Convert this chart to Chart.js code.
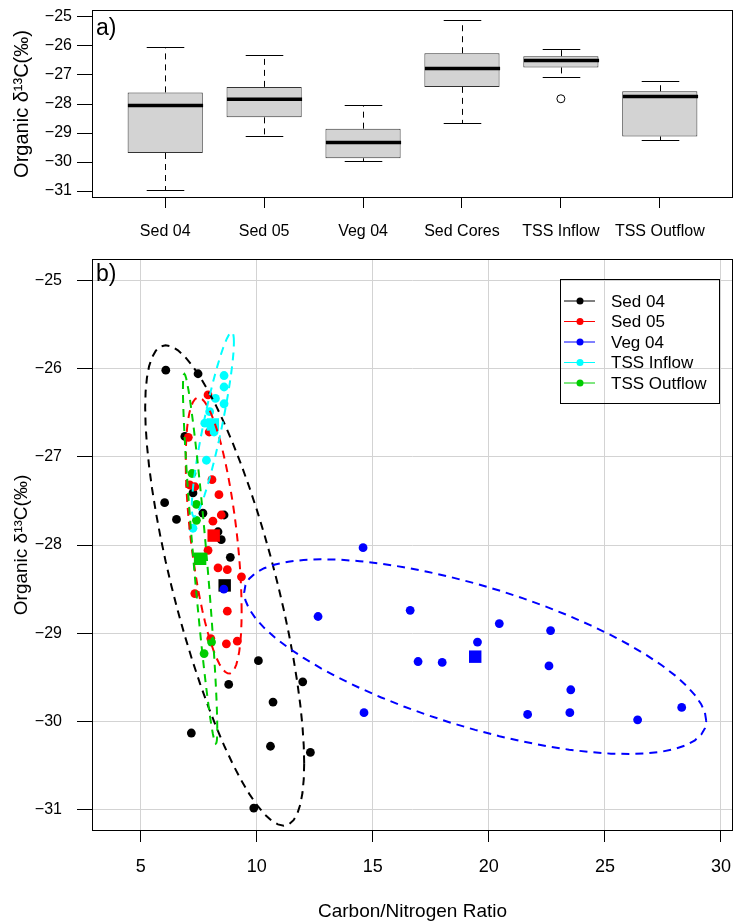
<!DOCTYPE html>
<html>
<head>
<meta charset="utf-8">
<script src="https://cdn.jsdelivr.net/npm/chart.js@4.4.1/dist/chart.umd.min.js"></script>
<style>
  html, body { margin: 0; padding: 0; background: #fff; }
  canvas { display: block; }
</style>
</head>
<body>
<canvas id="boxChart" width="735" height="250"></canvas>
<canvas id="scatterChart" width="735" height="674"></canvas>
<script>
// panel a) - box plot summaries per sample type
const categories = ['Sed 04', 'Sed 05', 'Veg 04', 'Sed Cores', 'TSS Inflow', 'TSS Outflow'];
const boxLow    = [-30.98, -29.12, -29.98, -28.65, -27.06, -29.25];
const boxQ1     = [-29.69, -28.46, -29.87, -27.41, -26.74, -29.12];
const boxMedian = [-28.05, -27.84, -29.33, -26.78, -26.50, -27.74];
const boxQ3     = [-27.60, -27.41, -28.85, -26.25, -26.35, -27.56];
const boxHigh   = [-26.03, -26.30, -28.05, -25.11, -26.10, -27.20];
const outlierCategory = [5];
const outlierValue = [-27.82];
const d13cTicks = [-25, -26, -27, -28, -29, -30, -31];

// panel b) - C/N ratio vs organic d13C
const groupNames = ['Sed 04', 'Sed 05', 'Veg 04', 'TSS Inflow', 'TSS Outflow'];
const sed04CN   = [6.08, 7.47, 6.90, 7.25, 6.03, 7.68, 8.59, 6.54, 8.33, 8.47, 8.86, 8.65, 10.07, 8.79, 11.98, 10.70, 7.18, 10.59, 12.31, 9.87];
const sed04D13C = [-26.02, -26.06, -26.77, -27.41, -27.52, -27.64, -27.66, -27.71, -27.85, -27.94, -28.14, -28.48, -29.31, -29.58, -29.55, -29.78, -30.13, -30.28, -30.35, -30.98];
const sed05CN   = [7.90, 7.95, 7.05, 8.07, 7.11, 7.33, 8.37, 8.47, 8.11, 8.13, 7.90, 8.33, 8.73, 9.34, 7.33, 8.73, 8.02, 8.69, 9.16];
const sed05D13C = [-26.30, -26.72, -26.78, -27.26, -27.32, -27.34, -27.43, -27.66, -27.73, -27.90, -28.06, -28.26, -28.28, -28.36, -28.55, -28.75, -29.06, -29.12, -29.09];
const veg04CN   = [14.58, 12.64, 16.61, 20.45, 22.66, 19.51, 16.95, 17.99, 22.59, 23.53, 14.62, 21.67, 23.49, 26.41, 28.31, 8.58];
const veg04D13C = [-28.03, -28.81, -28.74, -28.89, -28.97, -29.10, -29.32, -29.33, -29.37, -29.64, -29.90, -29.92, -29.90, -29.98, -29.84, -28.50];
const tssInCN   = [8.59, 8.59, 8.22, 8.59, 7.97, 7.76, 8.16, 7.83, 7.25];
const tssInD13C = [-26.08, -26.21, -26.34, -26.40, -26.49, -26.62, -26.72, -27.04, -27.81];
const tssOutCN   = [7.21, 7.40, 7.40, 8.05, 7.73];
const tssOutD13C = [-27.19, -27.54, -27.72, -29.10, -29.23];
const cnTicks = [5, 10, 15, 20, 25, 30];

const groupColors = ['#000000', '#ff0000', '#0000ff', '#00ffff', '#00cd00'];
const ellipseLevel = 0.8;

const FONT = "'Liberation Sans', Arial, Helvetica, sans-serif";
Chart.defaults.font.family = FONT;
Chart.defaults.color = '#000';

function mean(a) { return a.reduce((s, v) => s + v, 0) / a.length; }
function toPoints(xs, ys) { return xs.map((x, i) => ({ x: x, y: ys[i] })); }

// keep the plot box exactly where the axis widths put it
function fixSize(prop, size) {
    return s => {
        s[prop] = size;
        s.paddingLeft = 0; s.paddingRight = 0; s.paddingTop = 0; s.paddingBottom = 0;
    };
}

// data ellipse (same recipe as car::dataEllipse): mean, covariance, F-based radius
function dataEllipse(xs, ys, level) {
    const n = xs.length, mx = mean(xs), my = mean(ys);
    let sxx = 0, syy = 0, sxy = 0;
    for (let i = 0; i < n; i++) {
        sxx += (xs[i] - mx) ** 2;
        syy += (ys[i] - my) ** 2;
        sxy += (xs[i] - mx) * (ys[i] - my);
    }
    sxx /= n - 1; syy /= n - 1; sxy /= n - 1;
    const d2 = n - 1;
    const r = Math.sqrt(d2 * (Math.pow(1 - level, -2 / d2) - 1));
    const a = Math.sqrt(sxx), b = sxy / a, c = Math.sqrt(Math.max(syy - b * b, 0));
    const pts = [];
    for (let k = 0; k <= 60; k++) {
        const t = 2 * Math.PI * k / 60;
        pts.push({ x: mx + r * a * Math.cos(t), y: my + r * (b * Math.cos(t) + c * Math.sin(t)) });
    }
    return pts;
}

// box around the plot region plus the panel letter
const framePlugin = {
    id: 'frame',
    afterDraw(chart, args, opts) {
        const { ctx, chartArea: ca } = chart;
        ctx.save();
        ctx.strokeStyle = '#000';
        ctx.lineWidth = 1;
        ctx.strokeRect(Math.round(ca.left) + 0.5, Math.round(ca.top) + 0.5,
            Math.round(ca.right - ca.left) - 1, Math.round(ca.bottom - ca.top) - 1);
        ctx.fillStyle = '#000';
        ctx.font = '23px ' + FONT;
        ctx.textBaseline = 'alphabetic';
        ctx.fillText(opts.label, ca.left + 4, ca.top + opts.baseline);
        ctx.restore();
    }
};

const whiskerPlugin = {
    id: 'whiskers',
    afterDatasetsDraw(chart) {
        const meta = chart.getDatasetMeta(0);
        const y = chart.scales.y;
        const ctx = chart.ctx;
        const seg = (x1, y1, x2, y2) => { ctx.beginPath(); ctx.moveTo(x1, y1); ctx.lineTo(x2, y2); ctx.stroke(); };
        ctx.save();
        meta.data.forEach((bar, i) => {
            const cx = Math.round(bar.x) + 0.5;
            const half = bar.width / 2;
            const yLow = Math.round(y.getPixelForValue(boxLow[i])) + 0.5;
            const yHigh = Math.round(y.getPixelForValue(boxHigh[i])) + 0.5;
            ctx.strokeStyle = '#000';
            ctx.lineWidth = 1;
            ctx.setLineDash([6, 5]);
            seg(cx, y.getPixelForValue(boxQ3[i]), cx, yHigh);
            seg(cx, y.getPixelForValue(boxQ1[i]), cx, yLow);
            ctx.setLineDash([]);
            seg(cx - half / 2, yHigh, cx + half / 2, yHigh);
            seg(cx - half / 2, yLow, cx + half / 2, yLow);
            ctx.lineWidth = 3.5;
            const ym = y.getPixelForValue(boxMedian[i]);
            seg(cx - half, ym, cx + half, ym);
        });
        ctx.restore();
    }
};

const ellipsePlugin = {
    id: 'ellipses',
    afterDatasetsDraw(chart) {
        const { ctx, chartArea: ca, scales: { x, y } } = chart;
        const groups = [[sed04CN, sed04D13C], [sed05CN, sed05D13C], [veg04CN, veg04D13C], [tssInCN, tssInD13C], [tssOutCN, tssOutD13C]];
        ctx.save();
        ctx.beginPath();
        ctx.rect(ca.left, ca.top, ca.right - ca.left, ca.bottom - ca.top);
        ctx.clip();
        ctx.lineWidth = 2;
        ctx.setLineDash([8, 6]);
        groups.forEach((g, gi) => {
            const pts = dataEllipse(g[0], g[1], ellipseLevel);
            ctx.strokeStyle = groupColors[gi];
            ctx.beginPath();
            pts.forEach((p, k) => {
                const px = x.getPixelForValue(p.x), py = y.getPixelForValue(p.y);
                if (k === 0) ctx.moveTo(px, py); else ctx.lineTo(px, py);
            });
            ctx.stroke();
        });
        ctx.restore();
    }
};

const legendBoxPlugin = {
    id: 'legendBox',
    afterDraw(chart) {
        const { ctx, chartArea: ca } = chart;
        const w = 159, h = 124;
        const x0 = Math.round(ca.right - 14 - w), y0 = Math.round(ca.top + 20);
        ctx.save();
        ctx.strokeStyle = '#000';
        ctx.lineWidth = 1;
        ctx.strokeRect(x0 + 0.5, y0 + 0.5, w, h);
        ctx.font = '17px ' + FONT;
        ctx.textBaseline = 'middle';
        ctx.textAlign = 'left';
        groupNames.forEach((name, i) => {
            const yy = y0 + 22 + i * 20.5;
            ctx.strokeStyle = groupColors[i];
            ctx.beginPath(); ctx.moveTo(x0 + 4, yy); ctx.lineTo(x0 + 35, yy); ctx.stroke();
            ctx.fillStyle = groupColors[i];
            ctx.beginPath(); ctx.arc(x0 + 20, yy, 3.5, 0, 2 * Math.PI); ctx.fill();
            ctx.fillStyle = '#000';
            ctx.fillText(name, x0 + 51, yy + 1);
        });
        ctx.restore();
    }
};

const yTitle = 'Organic δ¹³C(‰)';

// ---------- panel a ----------
new Chart(document.getElementById('boxChart'), {
    type: 'bar',
    data: {
        datasets: [{
            type: 'bar',
            data: categories.map((c, i) => ({ x: i + 1, y: [boxQ1[i], boxQ3[i]] })),
            backgroundColor: '#d3d3d3',
            borderColor: '#333',
            borderWidth: 1,
            borderSkipped: false,
            barPercentage: 0.76,
            categoryPercentage: 1
        }, {
            type: 'scatter',
            data: outlierCategory.map((c, i) => ({ x: c, y: outlierValue[i] })),
            pointStyle: 'circle',
            pointRadius: 4,
            borderColor: '#000',
            borderWidth: 1,
            backgroundColor: 'rgba(0,0,0,0)'
        }]
    },
    options: {
        responsive: false,
        animation: false,
        layout: { autoPadding: false, padding: { top: 10, right: 2, left: 0, bottom: 0 } },
        plugins: { legend: { display: false }, tooltip: { enabled: false }, frame: { label: 'a)', baseline: 25 } },
        scales: {
            x: {
                type: 'linear', min: 0.26, max: 6.74, offset: false,
                afterBuildTicks: s => { s.ticks = categories.map((c, i) => ({ value: i + 1 })); },
                afterFit: fixSize('height', 52),
                grid: { drawOnChartArea: false, offset: false, tickLength: 10, color: '#000' },
                border: { display: false },
                ticks: { autoSkip: false, maxRotation: 0, padding: 14, font: { size: 16 }, callback: v => categories[v - 1] }
            },
            y: {
                type: 'linear', min: -31.24, max: -24.76, beginAtZero: false,
                afterBuildTicks: s => { s.ticks = d13cTicks.map(v => ({ value: v })); },
                afterFit: fixSize('width', 92),
                grid: { drawOnChartArea: false, tickLength: 15, color: '#000' },
                border: { display: false },
                ticks: { padding: 5, font: { size: 16 }, callback: v => String(v).replace('-', '\u2212') },
                title: { display: true, text: yTitle, font: { size: 20 }, padding: { top: 10, bottom: 0 } }
            }
        }
    },
    plugins: [whiskerPlugin, framePlugin]
});

// ---------- panel b ----------
const groupSeries = [[sed04CN, sed04D13C], [sed05CN, sed05D13C], [veg04CN, veg04D13C], [tssInCN, tssInD13C], [tssOutCN, tssOutD13C]];
const scatterSets = [];
groupSeries.forEach((g, i) => {
    scatterSets.push({
        label: groupNames[i],
        data: toPoints(g[0], g[1]),
        pointStyle: 'circle',
        pointRadius: 4.4,
        backgroundColor: groupColors[i],
        borderWidth: 0,
        order: 20 - 2 * i
    });
    scatterSets.push({
        label: groupNames[i] + ' mean',
        data: [{ x: mean(g[0]), y: mean(g[1]) }],
        pointStyle: 'rect',
        pointRadius: 8.8,
        backgroundColor: groupColors[i],
        borderWidth: 0,
        order: 19 - 2 * i
    });
});

new Chart(document.getElementById('scatterChart'), {
    type: 'scatter',
    data: { datasets: scatterSets },
    options: {
        responsive: false,
        animation: false,
        layout: { autoPadding: false, padding: { top: 9, right: 2, left: 0, bottom: 0 } },
        plugins: { legend: { display: false }, tooltip: { enabled: false }, frame: { label: 'b)', baseline: 22 } },
        scales: {
            x: {
                type: 'linear', min: 2.9, max: 30.52,
                afterBuildTicks: s => { s.ticks = cnTicks.map(v => ({ value: v })); },
                afterFit: fixSize('height', 93),
                grid: { color: '#d3d3d3', tickColor: '#000', tickLength: 11 },
                border: { display: false },
                ticks: { autoSkip: false, maxRotation: 0, padding: 14, font: { size: 18 }, callback: v => String(v) },
                title: { display: true, text: 'Carbon/Nitrogen Ratio', font: { size: 19 }, padding: { top: 0, bottom: 1 } }
            },
            y: {
                type: 'linear', min: -31.24, max: -24.76,
                afterBuildTicks: s => { s.ticks = d13cTicks.map(v => ({ value: v })); },
                afterFit: fixSize('width', 92),
                grid: { color: '#d3d3d3', tickColor: '#000', tickLength: 15 },
                border: { display: false },
                ticks: { padding: 15, font: { size: 16 }, callback: v => String(v).replace('-', '\u2212') },
                title: { display: true, text: yTitle, font: { size: 19 }, padding: { top: 10, bottom: 0 } }
            }
        }
    },
    plugins: [ellipsePlugin, framePlugin, legendBoxPlugin]
});
</script>
</body>
</html>
